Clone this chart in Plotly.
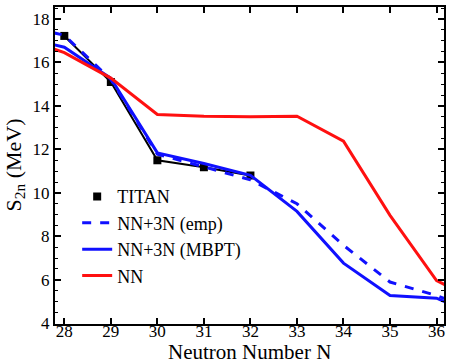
import plotly.graph_objects as go

# Two-neutron separation energies S_2n (MeV) versus neutron number N
N_exp = [28, 29, 30, 31, 32]
titan = [17.22, 15.10, 11.50, 11.18, 10.80]

N_th = [27, 28, 29, 30, 31, 32, 33, 34, 35, 36, 37]
nn3n_emp = [17.75, 17.25, 15.22, 11.78, 11.20, 10.60, 9.50, 7.59, 5.90, 5.28, 4.50]
nn3n_mbpt = [17.20, 16.70, 15.27, 11.84, 11.35, 10.81, 9.15, 6.77, 5.28, 5.16, 4.20]
nn_only = [17.20, 16.45, 15.28, 13.61, 13.52, 13.50, 13.53, 12.38, 8.97, 5.97, 4.90]

x_ticks = list(range(28, 37))
y_ticks = [4, 6, 8, 10, 12, 14, 16, 18]

serif = "Liberation Serif, DejaVu Serif, serif"

fig = go.Figure()

# experimental points joined by a thin black line
fig.add_trace(go.Scatter(x=N_exp, y=titan, mode="lines", showlegend=False,
                         line=dict(color="black", width=2)))
fig.add_trace(go.Scatter(x=N_exp, y=titan, mode="markers", name="TITAN",
                         marker=dict(symbol="square", size=8, color="black")))
fig.add_trace(go.Scatter(x=N_th, y=nn3n_emp, mode="lines", name="NN+3N (emp)",
                         line=dict(color="#1010ff", width=3, dash="dash")))
fig.add_trace(go.Scatter(x=N_th, y=nn3n_mbpt, mode="lines", name="NN+3N (MBPT)",
                         line=dict(color="#1010ff", width=3)))
fig.add_trace(go.Scatter(x=N_th, y=nn_only, mode="lines", name="NN",
                         line=dict(color="#ff1010", width=3)))

fig.update_layout(
    width=449, height=364,
    margin=dict(l=55, r=3, t=7, b=40),
    paper_bgcolor="white", plot_bgcolor="white",
    font=dict(family=serif, size=16, color="black"),
    legend=dict(x=0.057, y=0.46, xanchor="left", yanchor="top",
                bgcolor="rgba(0,0,0,0)", font=dict(family=serif, size=18),
                itemwidth=30, tracegroupgap=0),
    showlegend=True,
    annotations=[
        dict(text="Neutron Number N", xref="paper", yref="paper", x=0.5, y=0,
             yshift=-28, xanchor="center", yanchor="middle", showarrow=False,
             font=dict(family=serif, size=21)),
        dict(text="S<sub>2n</sub> (MeV)", xref="paper", yref="paper", x=0, y=0.5,
             xshift=-41, yshift=0, xanchor="center", yanchor="middle",
             textangle=-90, showarrow=False, font=dict(family=serif, size=22)),
    ],
)

fig.update_xaxes(
    range=[27.8, 36.16], tickvals=x_ticks, ticktext=[str(v) for v in x_ticks],
    ticks="inside", ticklen=6, tickwidth=1.5, tickcolor="black",
    ticklabelstandoff=-9,
    showline=True, linecolor="black", linewidth=2, mirror="allticks",
    showgrid=False, zeroline=False,
    tickfont=dict(family=serif, size=17),
)
fig.update_yaxes(
    range=[3.97, 18.55], tickvals=y_ticks, ticktext=[str(v) for v in y_ticks],
    ticks="inside", ticklen=6, tickwidth=1.5, tickcolor="black",
    minor=dict(dtick=0.5, tick0=4, ticks="inside", ticklen=3, tickwidth=1, tickcolor="black"),
    showline=True, linecolor="black", linewidth=2, mirror="allticks",
    showgrid=False, zeroline=False,
    tickfont=dict(family=serif, size=17),
)

fig.write_html("out.html")
